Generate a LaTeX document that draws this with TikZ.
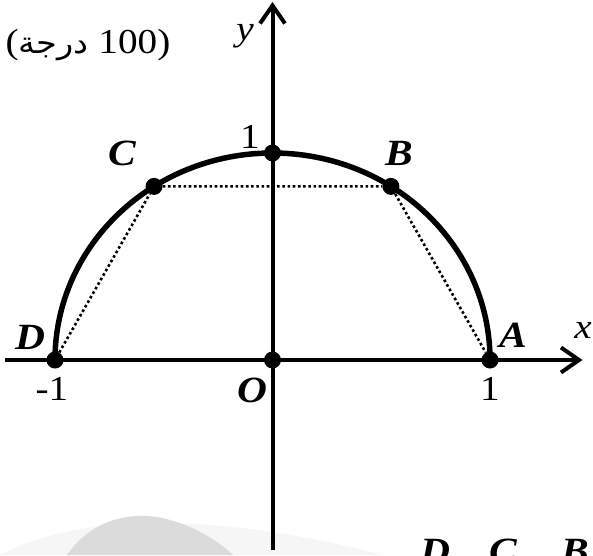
\documentclass[tikz,border=0pt]{standalone}
\usepackage{fontspec}
\setmainfont{Liberation Serif}
\newfontfamily\arabicfont[Script=Arabic]{DejaVu Sans}
\TeXXeTstate=1
\usepackage{xcolor}
\usepackage{graphicx}
\usepackage{tikz}
\usetikzlibrary{arrows.meta,positioning}
\newcommand{\widetxt}[1]{\scalebox{1.12}[1]{#1}}

\begin{document}
\begin{tikzpicture}[
  x=1pt, y=1pt,
  font=\fontsize{35}{40}\selectfont,
  dot/.style={circle, fill=black, inner sep=0pt, minimum size=17pt},
  ptlabel/.style={font=\fontsize{37}{42}\selectfont\bfseries\itshape},
  axis/.style={line width=4pt, -{Straight Barb[length=18pt, width=25pt, line width=4pt]}},
  chord/.style={line width=2.6pt, dash pattern=on 2.6pt off 2.6pt}
]
\useasboundingbox (-272.5,-195) rectangle (320.5,360);

% watermark at the bottom
\fill[gray!7] (-272.5,-195) .. controls (-200,-155) and (-60,-150) .. (110,-195) -- cycle;
\fill[gray!28] (-205.5,-195) .. controls (-185,-165) and (-150,-150) .. (-110,-158) .. controls (-80,-165) and (-55,-180) .. (-39.5,-195) -- cycle;

% axes
\coordinate (xl) at (-267,0);
\coordinate (xr) at (310,0);
\coordinate (yb) at (0,-190);
\coordinate (yt) at (0,358);
\draw[axis] (xl) -- (xr);
\draw[axis] (yb) -- (yt);

% half circle
\draw[line width=5.5pt] (217.5,0) arc[start angle=0, end angle=180, x radius=217.5, y radius=207];

\node[dot] (A) at (217.5,0) {};
\node[dot] (D) at (-217.5,0) {};
\node[dot] (B) at ({217.5*cos(57)},{207*sin(57)}) {};
\node[dot] (C) at ({217.5*cos(123)},{207*sin(123)}) {};
\node[dot] (top) at (0,207) {};
\node[dot] (O) at (0,0) {};

\draw[chord] (D) -- (C) -- (B) -- (A);

% labels
\node[ptlabel] (lA) at (240.5,25) {\widetxt{A}};
\node[ptlabel] (lB) at (126.5,207) {\widetxt{B}};
\node[ptlabel] (lC) at (-150.5,207) {\widetxt{C}};
\node[ptlabel] (lD) at (-242.5,23) {\widetxt{D}};
\node[ptlabel] (lO) at (-20.5,-30) {\widetxt{O}};
\node (one) at (-22.5,223) {\widetxt{1}};
\node (xone) at (217.5,-29) {\widetxt{1}};
\node (xmone) at (-220.5,-29) {\widetxt{-1}};
\node (lx) at (310.5,30) {\widetxt{\itshape x}};
\node (ly) at (-27.5,324) {\widetxt{\itshape y}};
\node (deg) at (-184.5,315) {\widetxt{\hbox{(}\hbox{\fontsize{30}{34}\selectfont\arabicfont\beginR درجة\endR}\hbox{ 100)}}};

% cut-off line at the bottom
\begin{scope}
\clip (-272.5,-195) rectangle (320.5,360);
\node[ptlabel, anchor=base] (bD) at (162.5,-203) {\widetxt{D}};
\node[ptlabel, anchor=base] (bC) at (230.5,-203) {\widetxt{C}};
\node[ptlabel, anchor=base] (bB) at (302.5,-203) {\widetxt{B}};
\end{scope}
\end{tikzpicture}
\end{document}
